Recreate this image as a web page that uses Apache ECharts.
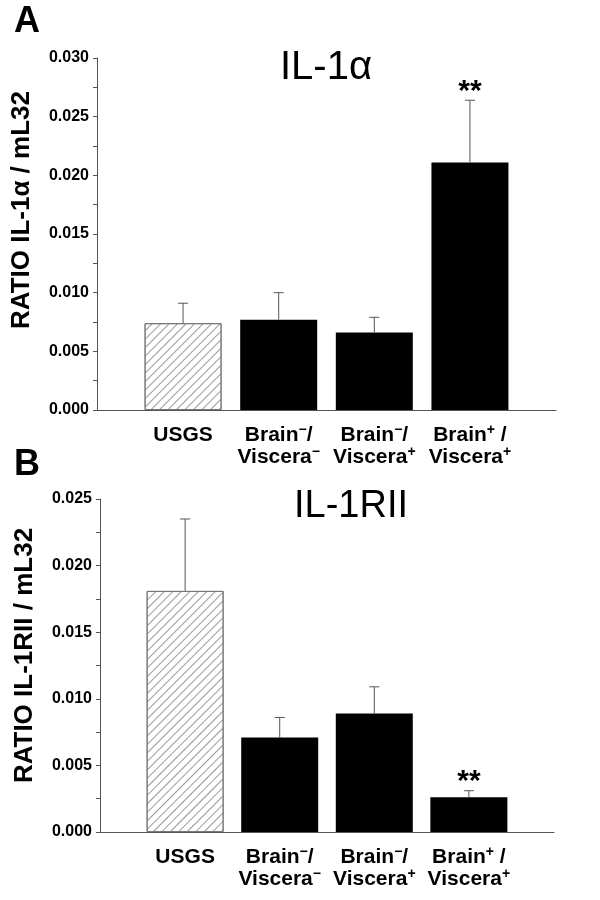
<!DOCTYPE html>
<html>

<head>
  <meta charset="utf-8">
  <title>IL-1 ratio</title>
  <script src="https://cdn.jsdelivr.net/npm/echarts@6/dist/echarts.min.js"></script>
  <style>
    body {
      margin: 0;
      background: #fff;
    }

    #main {
      width: 600px;
      height: 900px;
    }
  </style>
</head>

<body>
  <div id="main"></div>
  <script>
    // groups on the x axis (rich text for the superscripts)
    var groups = [
      'USGS',
      'Brain{m|−}/\nViscera{m|−}',
      'Brain{m|−}/\nViscera{p|+}',
      'Brain{p|+} /\nViscera{p|+}'
    ];
    var positions = [0, 1, 2, 3];

    // panel A: IL-1alpha
    var valuesA = [0.0074, 0.0077, 0.0066, 0.0211];
    var errorsA = [0.0017, 0.0023, 0.0013, 0.0053];
    var marksA = ['', '', '', '**'];

    // panel B: IL-1RII
    var valuesB = [0.0181, 0.0071, 0.0089, 0.0026];
    var errorsB = [0.0054, 0.0015, 0.0020, 0.0005];
    var marksB = ['', '', '', '**'];

    var FONT = "'Liberation Sans', Arial, sans-serif";
    var AXIS_COLOR = '#555';

    var chart = echarts.init(document.getElementById('main'));

    function barData(values) {
      return values.map(function (v, i) {
        var item = { value: [positions[i], v] };
        if (i === 0) {
          // USGS bar is hatched
          item.itemStyle = {
            color: '#fff',
            borderColor: '#777',
            borderWidth: 1,
            decal: {
              symbol: 'rect',
              symbolSize: 1,
              dashArrayX: [1, 0],
              dashArrayY: [1, 5],
              rotation: -Math.PI / 4,
              color: '#999'
            }
          };
        }
        return item;
      });
    }

    function errData(values, errors) {
      return values.map(function (v, i) {
        return [positions[i], v, errors[i]];
      });
    }

    function errRender(marks) {
      return function (params, api) {
        var x = api.value(0), v = api.value(1), e = api.value(2);
        var base = api.coord([x, v]);
        var top = api.coord([x, v + e]);
        var kids = [
          { type: 'line', shape: { x1: base[0], y1: base[1], x2: top[0], y2: top[1] }, style: { stroke: AXIS_COLOR, lineWidth: 1 } },
          { type: 'line', shape: { x1: top[0] - 5, y1: top[1], x2: top[0] + 5, y2: top[1] }, style: { stroke: AXIS_COLOR, lineWidth: 1 } }
        ];
        var m = marks[params.dataIndex];
        if (m) {
          kids.push({
            type: 'text',
            x: top[0],
            y: top[1] + 6,
            style: { text: m, font: 'bold 30px ' + FONT, fill: '#000', align: 'center', verticalAlign: 'bottom' }
          });
        }
        return { type: 'group', children: kids };
      };
    }

    function xAxisFor(gridIndex) {
      return {
        type: 'value',
        gridIndex: gridIndex,
        min: -0.9,
        max: 3.9,
        splitLine: { show: false },
        axisLine: { onZero: false, lineStyle: { color: AXIS_COLOR, width: 1 } },
        axisTick: {
          show: true,
          customValues: positions,
          inside: true,
          length: 4,
          lineStyle: { color: AXIS_COLOR }
        },
        axisLabel: {
          customValues: positions,
          margin: 14,
          formatter: function (v) {
            return groups[Math.round(v)];
          },
          color: '#000',
          fontFamily: FONT,
          fontWeight: 'bold',
          fontSize: 21,
          lineHeight: 22,
          rich: {
            m: { fontSize: 14, fontWeight: 'bold', fontFamily: FONT, color: '#000', padding: [0, 0, 10, 0] },
            p: { fontSize: 14, fontWeight: 'bold', fontFamily: FONT, color: '#000', padding: [0, 0, 10, 0] }
          }
        }
      };
    }

    function yAxisFor(gridIndex, max, name, lift) {
      return {
        type: 'value',
        gridIndex: gridIndex,
        min: 0,
        max: max,
        interval: 0.005,
        name: name,
        nameLocation: 'middle',
        nameGap: 62,
        nameTextStyle: {
          fontFamily: FONT,
          fontWeight: 'bold',
          fontSize: 26,
          color: '#000',
          padding: [0, 0, 0, lift]
        },
        splitLine: { show: false },
        axisLine: { show: true, onZero: false, lineStyle: { color: AXIS_COLOR, width: 1 } },
        axisTick: { show: true, length: 4, lineStyle: { color: AXIS_COLOR } },
        minorTick: { show: true, splitNumber: 2, length: 4, lineStyle: { color: AXIS_COLOR } },
        axisLabel: {
          margin: 8,
          formatter: function (v) { return v.toFixed(3); },
          color: '#000',
          fontFamily: FONT,
          fontWeight: 'bold',
          fontSize: 16
        }
      };
    }

    var option = {
      animation: false,
      backgroundColor: '#fff',
      grid: [
        { left: 97, right: 44, top: 58, bottom: 490 },
        { left: 100, right: 46, top: 499, bottom: 68 }
      ],
      xAxis: [xAxisFor(0), xAxisFor(1)],
      yAxis: [
        yAxisFor(0, 0.03, 'RATIO IL-1α / mL32', 48),
        yAxisFor(1, 0.025, 'RATIO IL-1RII / mL32', 20)
      ],
      graphic: [
        { type: 'text', left: 14, top: 4, style: { text: 'A', font: 'bold 36px ' + FONT, fill: '#000' } },
        { type: 'text', left: 14, top: 447, style: { text: 'B', font: 'bold 36px ' + FONT, fill: '#000' } },
        { type: 'text', x: 326, y: 48, style: { text: 'IL-1α', font: '40px ' + FONT, fill: '#000', align: 'center', verticalAlign: 'top' } },
        { type: 'text', x: 351, y: 488, style: { text: 'IL-1RII', font: '38px ' + FONT, fill: '#000', align: 'center', verticalAlign: 'top' } }
      ],
      series: [
        {
          type: 'bar',
          xAxisIndex: 0,
          yAxisIndex: 0,
          barWidth: 77,
          itemStyle: { color: '#000' },
          data: barData(valuesA)
        },
        {
          type: 'custom',
          xAxisIndex: 0,
          yAxisIndex: 0,
          renderItem: errRender(marksA),
          data: errData(valuesA, errorsA),
          z: 3
        },
        {
          type: 'bar',
          xAxisIndex: 1,
          yAxisIndex: 1,
          barWidth: 77,
          itemStyle: { color: '#000' },
          data: barData(valuesB)
        },
        {
          type: 'custom',
          xAxisIndex: 1,
          yAxisIndex: 1,
          renderItem: errRender(marksB),
          data: errData(valuesB, errorsB),
          z: 3
        }
      ]
    };

    chart.setOption(option);
  </script>
</body>

</html>
